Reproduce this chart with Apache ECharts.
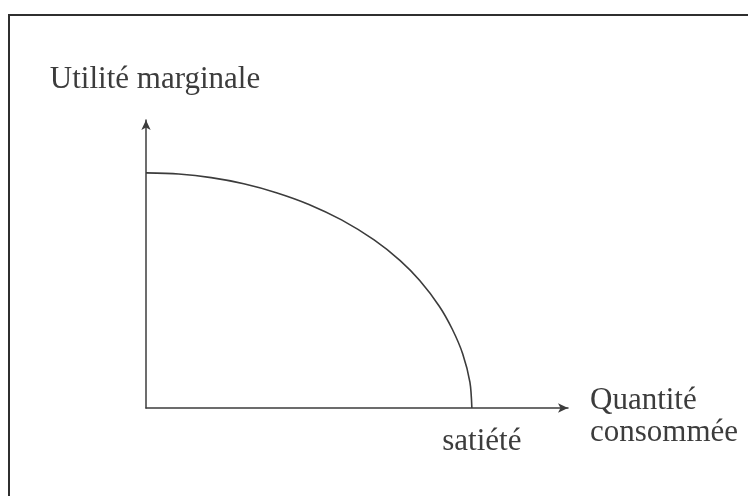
<!DOCTYPE html>
<html>
<head>
<meta charset="utf-8">
<script src="https://cdn.jsdelivr.net/npm/echarts@6/dist/echarts.min.js"></script>
<style>
html,body{margin:0;padding:0;background:#fff;}
#c{width:748px;height:496px;}
</style>
</head>
<body>
<div id="c"></div>
<script>
// Data (quantity consumed vs. marginal utility)
const quantity = [0, 1, 2, 3, 4, 5, 6, 7, 7.8, 8.4, 9, 9.4, 9.72, 9.94, 10];
const utility  = [10, 9.95, 9.8, 9.54, 9.16, 8.66, 8.0, 7.15, 6.27, 5.42, 4.33, 3.35, 2.3, 1.1, 0];
const satietyValue = 10;
const yAxisTitle = 'Utilité marginale';
const xAxisTitle = 'Quantité\nconsommée';
const satietyLabel = 'satiété';

const chart = echarts.init(document.getElementById('c'), null, {renderer: 'canvas'});
const ink = '#3c3c3c';
const font = '"Liberation Serif", "Times New Roman", serif';

chart.setOption({
  backgroundColor: '#ffffff',
  animation: false,
  grid: {left: 146, right: 180, top: 120, bottom: 88, containLabel: false},
  xAxis: {
    type: 'value', min: 0, max: 12.95,
    axisLine: {show: true, lineStyle: {color: ink, width: 1.5}, symbol: ['none', 'arrow'], symbolSize: [7, 10]},
    axisTick: {show: false},
    splitLine: {show: false},
    axisLabel: {
      show: true, customValues: [satietyValue],
      formatter: () => satietyLabel,
      color: ink, fontFamily: font, fontSize: 31, margin: 18,
      padding: [0, 0, 0, 20]
    }
  },
  yAxis: {
    type: 'value', min: 0, max: 12.25,
    name: yAxisTitle, nameLocation: 'end', nameGap: 25,
    nameTextStyle: {color: ink, fontFamily: font, fontSize: 31, align: 'center', padding: [0, 0, 0, 18]},
    axisLine: {show: true, lineStyle: {color: ink, width: 1.5}, symbol: ['none', 'arrow'], symbolSize: [7, 10]},
    axisTick: {show: false},
    splitLine: {show: false},
    axisLabel: {show: false}
  },
  series: [{
    type: 'line',
    data: quantity.map((q, i) => [q, utility[i]]),
    smooth: 0.3,
    showSymbol: false,
    lineStyle: {color: ink, width: 1.6}
  }],
  graphic: [{
    type: 'rect', silent: true, z: 100,
    shape: {x: 9, y: 15, width: 800, height: 600},
    style: {fill: 'none', stroke: '#2f2f2f', lineWidth: 2}
  }, {
    type: 'text', silent: true, left: 590, top: 385,
    style: {text: xAxisTitle, fill: ink, font: '31px ' + font, lineHeight: 32, textAlign: 'left'}
  }]
});
</script>
</body>
</html>
